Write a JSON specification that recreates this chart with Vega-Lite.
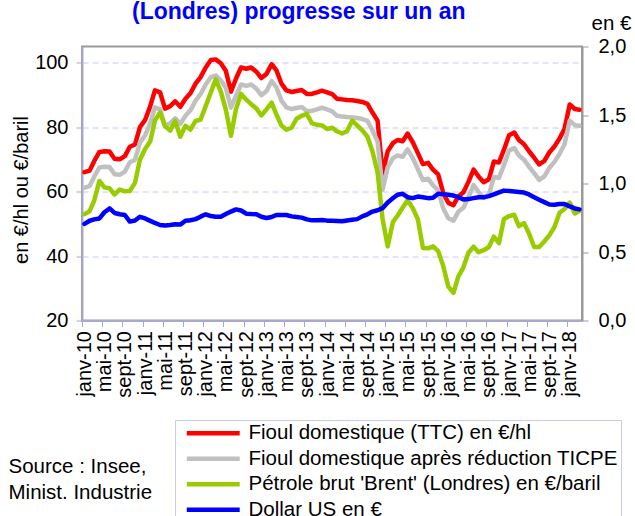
{
  "$schema": "https://vega.github.io/schema/vega-lite/v6.json",
  "width": 500,
  "height": 274,
  "autosize": {"type": "none"},
  "padding": {"left": 82, "top": 46.5, "right": 53, "bottom": 195.5},
  "background": "white",
  "config": {
    "font": "Liberation Sans",
    "view": {"stroke": "#9a9a9a", "strokeWidth": 2},
    "axis": {"labelFont": "Liberation Sans", "titleFont": "Liberation Sans", "labelColor": "black", "titleColor": "black", "titleFontWeight": "normal"}
  },
  "title": {"text": "(Londres) progresse sur un an", "anchor": "start", "frame": "group", "dx": 50, "dy": 16, "fontSize": 23, "fontWeight": "bold", "color": "#0000ff", "font": "Liberation Sans", "offset": 6},
  "data": {"values": [
    {"d":"2010-01-01","ttc":66,"ticpe":61.2,"brent":53,"usd":0.705},
    {"d":"2010-02-01","ttc":66.5,"ticpe":61.7,"brent":53.9,"usd":0.728},
    {"d":"2010-03-01","ttc":69.5,"ticpe":64.7,"brent":57.3,"usd":0.738},
    {"d":"2010-04-01","ttc":72.3,"ticpe":67.5,"brent":63.3,"usd":0.745},
    {"d":"2010-05-01","ttc":72.5,"ticpe":67.7,"brent":61.3,"usd":0.79},
    {"d":"2010-06-01","ttc":72.4,"ticpe":67.6,"brent":61,"usd":0.818},
    {"d":"2010-07-01","ttc":70.2,"ticpe":65.4,"brent":59.1,"usd":0.785},
    {"d":"2010-08-01","ttc":70,"ticpe":65.2,"brent":60.6,"usd":0.776},
    {"d":"2010-09-01","ttc":71,"ticpe":66.2,"brent":60.1,"usd":0.77},
    {"d":"2010-10-01","ttc":73.9,"ticpe":69.1,"brent":60.2,"usd":0.722},
    {"d":"2010-11-01","ttc":74.6,"ticpe":69.8,"brent":62.7,"usd":0.73},
    {"d":"2010-12-01","ttc":80,"ticpe":75.2,"brent":69.9,"usd":0.757},
    {"d":"2011-01-01","ttc":82.2,"ticpe":77.4,"brent":73.2,"usd":0.745},
    {"d":"2011-02-01","ttc":86.5,"ticpe":81.2,"brent":75.6,"usd":0.727},
    {"d":"2011-03-01","ttc":91.4,"ticpe":86.1,"brent":82,"usd":0.712},
    {"d":"2011-04-01","ttc":90.8,"ticpe":85.5,"brent":84.5,"usd":0.697},
    {"d":"2011-05-01","ttc":85.7,"ticpe":80.4,"brent":80.3,"usd":0.693},
    {"d":"2011-06-01","ttc":86.5,"ticpe":81.2,"brent":78.9,"usd":0.697},
    {"d":"2011-07-01","ttc":88,"ticpe":82.7,"brent":81.9,"usd":0.703},
    {"d":"2011-08-01","ttc":86.3,"ticpe":81,"brent":77,"usd":0.7},
    {"d":"2011-09-01","ttc":88.8,"ticpe":83.5,"brent":80.4,"usd":0.728},
    {"d":"2011-10-01","ttc":90.5,"ticpe":85.2,"brent":79.2,"usd":0.732},
    {"d":"2011-11-01","ttc":93.5,"ticpe":88.2,"brent":81.9,"usd":0.74},
    {"d":"2011-12-01","ttc":95.5,"ticpe":90.2,"brent":82.3,"usd":0.758},
    {"d":"2012-01-01","ttc":98.5,"ticpe":93.2,"brent":86.5,"usd":0.775},
    {"d":"2012-02-01","ttc":100.8,"ticpe":95.5,"brent":90.8,"usd":0.762},
    {"d":"2012-03-01","ttc":101,"ticpe":96,"brent":94.8,"usd":0.758},
    {"d":"2012-04-01","ttc":99.8,"ticpe":94.5,"brent":91,"usd":0.758},
    {"d":"2012-05-01","ttc":97.5,"ticpe":92.2,"brent":85.5,"usd":0.777},
    {"d":"2012-06-01","ttc":91,"ticpe":86,"brent":77.3,"usd":0.795},
    {"d":"2012-07-01","ttc":95,"ticpe":89.7,"brent":85.5,"usd":0.811},
    {"d":"2012-08-01","ttc":98.5,"ticpe":93.2,"brent":90.3,"usd":0.803},
    {"d":"2012-09-01","ttc":98.1,"ticpe":92.8,"brent":88.5,"usd":0.78},
    {"d":"2012-10-01","ttc":98.5,"ticpe":93.2,"brent":87.1,"usd":0.777},
    {"d":"2012-11-01","ttc":97.2,"ticpe":91.9,"brent":85.8,"usd":0.775},
    {"d":"2012-12-01","ttc":95.2,"ticpe":89.9,"brent":83.6,"usd":0.757},
    {"d":"2013-01-01","ttc":96.5,"ticpe":91.2,"brent":85.5,"usd":0.748},
    {"d":"2013-02-01","ttc":99.5,"ticpe":94.3,"brent":87.6,"usd":0.755},
    {"d":"2013-03-01","ttc":97.7,"ticpe":92.4,"brent":84,"usd":0.77},
    {"d":"2013-04-01","ttc":93.5,"ticpe":88.2,"brent":80.5,"usd":0.77},
    {"d":"2013-05-01","ttc":91.4,"ticpe":86.1,"brent":79.2,"usd":0.77},
    {"d":"2013-06-01","ttc":90.9,"ticpe":85.6,"brent":79.8,"usd":0.76},
    {"d":"2013-07-01","ttc":91.2,"ticpe":85.9,"brent":82.6,"usd":0.756},
    {"d":"2013-08-01","ttc":91.5,"ticpe":86.2,"brent":83.5,"usd":0.751},
    {"d":"2013-09-01","ttc":90.3,"ticpe":85,"brent":84.1,"usd":0.738},
    {"d":"2013-10-01","ttc":90.3,"ticpe":85,"brent":81.2,"usd":0.731},
    {"d":"2013-11-01","ttc":90.8,"ticpe":85.5,"brent":80.7,"usd":0.731},
    {"d":"2013-12-01","ttc":91.3,"ticpe":86,"brent":80.5,"usd":0.733},
    {"d":"2014-01-01","ttc":90.8,"ticpe":85.5,"brent":79.4,"usd":0.729},
    {"d":"2014-02-01","ttc":90.2,"ticpe":84.9,"brent":79.8,"usd":0.728},
    {"d":"2014-03-01","ttc":88.8,"ticpe":83.5,"brent":78.7,"usd":0.726},
    {"d":"2014-04-01","ttc":88.6,"ticpe":83.3,"brent":78,"usd":0.724},
    {"d":"2014-05-01","ttc":88.4,"ticpe":83.1,"brent":78.7,"usd":0.73},
    {"d":"2014-06-01","ttc":88.3,"ticpe":83,"brent":82,"usd":0.735},
    {"d":"2014-07-01","ttc":88.1,"ticpe":82.8,"brent":80.5,"usd":0.74},
    {"d":"2014-08-01","ttc":87.8,"ticpe":82.5,"brent":79,"usd":0.76},
    {"d":"2014-09-01","ttc":87.2,"ticpe":81.9,"brent":77,"usd":0.775},
    {"d":"2014-10-01","ttc":84.5,"ticpe":79,"brent":72.5,"usd":0.795},
    {"d":"2014-11-01","ttc":82,"ticpe":75.5,"brent":66,"usd":0.805},
    {"d":"2014-12-01","ttc":65.5,"ticpe":60.6,"brent":51.5,"usd":0.82},
    {"d":"2015-01-01","ttc":72.5,"ticpe":67.5,"brent":43,"usd":0.862},
    {"d":"2015-02-01","ttc":75,"ticpe":70.3,"brent":50.5,"usd":0.892},
    {"d":"2015-03-01","ttc":76,"ticpe":71.2,"brent":52.5,"usd":0.918},
    {"d":"2015-04-01","ttc":75.6,"ticpe":70.8,"brent":55,"usd":0.925},
    {"d":"2015-05-01","ttc":78,"ticpe":73.1,"brent":57.4,"usd":0.9},
    {"d":"2015-06-01","ttc":75.3,"ticpe":70.4,"brent":54.8,"usd":0.893},
    {"d":"2015-07-01","ttc":72,"ticpe":67,"brent":51.5,"usd":0.905},
    {"d":"2015-08-01","ttc":68.5,"ticpe":63.6,"brent":42.5,"usd":0.9},
    {"d":"2015-09-01","ttc":68.9,"ticpe":64,"brent":42.4,"usd":0.893},
    {"d":"2015-10-01","ttc":66.8,"ticpe":61.9,"brent":43,"usd":0.896},
    {"d":"2015-11-01","ttc":65.3,"ticpe":60.4,"brent":41.5,"usd":0.926},
    {"d":"2015-12-01","ttc":59.6,"ticpe":54.8,"brent":37,"usd":0.922},
    {"d":"2016-01-01","ttc":56.5,"ticpe":51.7,"brent":30.5,"usd":0.918},
    {"d":"2016-02-01","ttc":55.8,"ticpe":51,"brent":28.6,"usd":0.912},
    {"d":"2016-03-01","ttc":58.5,"ticpe":53.7,"brent":33.6,"usd":0.9},
    {"d":"2016-04-01","ttc":59.8,"ticpe":55,"brent":36.5,"usd":0.884},
    {"d":"2016-05-01","ttc":63,"ticpe":58.2,"brent":41,"usd":0.886},
    {"d":"2016-06-01","ttc":66.8,"ticpe":62,"brent":42.9,"usd":0.893},
    {"d":"2016-07-01","ttc":64.7,"ticpe":59.9,"brent":41.2,"usd":0.899},
    {"d":"2016-08-01","ttc":62.9,"ticpe":58.1,"brent":41.8,"usd":0.899},
    {"d":"2016-09-01","ttc":63.8,"ticpe":59,"brent":42.8,"usd":0.908},
    {"d":"2016-10-01","ttc":69.3,"ticpe":64.5,"brent":46,"usd":0.92},
    {"d":"2016-11-01","ttc":69,"ticpe":64.2,"brent":44,"usd":0.935},
    {"d":"2016-12-01","ttc":73,"ticpe":68.2,"brent":51.5,"usd":0.948},
    {"d":"2017-01-01","ttc":77.5,"ticpe":72.7,"brent":52.4,"usd":0.946},
    {"d":"2017-02-01","ttc":78.3,"ticpe":73.5,"brent":52.8,"usd":0.942},
    {"d":"2017-03-01","ttc":76,"ticpe":71.2,"brent":49.3,"usd":0.938},
    {"d":"2017-04-01","ttc":74.7,"ticpe":69.9,"brent":50.2,"usd":0.934},
    {"d":"2017-05-01","ttc":72.5,"ticpe":67.7,"brent":47,"usd":0.92},
    {"d":"2017-06-01","ttc":70.5,"ticpe":65.7,"brent":42.8,"usd":0.9},
    {"d":"2017-07-01","ttc":68.4,"ticpe":63.6,"brent":42.8,"usd":0.882},
    {"d":"2017-08-01","ttc":69.5,"ticpe":64.7,"brent":44.5,"usd":0.864},
    {"d":"2017-09-01","ttc":72.2,"ticpe":67.4,"brent":46.5,"usd":0.847},
    {"d":"2017-10-01","ttc":74,"ticpe":69.2,"brent":49,"usd":0.845},
    {"d":"2017-11-01","ttc":76.5,"ticpe":71.7,"brent":53.4,"usd":0.85},
    {"d":"2017-12-01","ttc":79.5,"ticpe":74.7,"brent":54.6,"usd":0.85},
    {"d":"2018-01-01","ttc":87,"ticpe":82,"brent":56.6,"usd":0.833},
    {"d":"2018-02-01","ttc":85.6,"ticpe":80.6,"brent":53.2,"usd":0.818},
    {"d":"2018-03-01","ttc":85.4,"ticpe":80.4,"brent":54,"usd":0.811}
  ]},
  "layer": [
    {
      "transform": [{"fold": ["ttc", "ticpe", "brent"], "as": ["series", "value"]}],
      "mark": {"type": "line", "strokeJoin": "round", "strokeCap": "round"},
      "encoding": {
        "x": {
          "field": "d", "type": "temporal",
          "scale": {"type": "utc", "domain": [{"year": 2009, "month": 12, "date": 17, "utc": true}, {"year": 2018, "month": 3, "date": 16, "utc": true}]},
          "axis": {
            "orient": "bottom",
            "title": ["Source : Insee,", "Minist. Industrie"],
            "titleX": -74, "titleY": 136, "titleAlign": "left", "titleBaseline": "top", "titleAngle": 0,
            "titleFontSize": 20.5, "titleLineHeight": 26, "titleFontWeight": "normal",
            "tickCount": {"interval": "month", "step": 4},
            "labelExpr": "['janv','févr','mars','avr','mai','juin','juil','août','sept','oct','nov','déc'][utcmonth(datum.value)] + '-' + utcFormat(datum.value, '%y')",
            "labelAngle": -90, "labelAlign": "right", "labelBaseline": "middle",
            "labelFontSize": 20, "labelOverlap": false, "labelFlush": false, "labelPadding": 4,
            "tickSize": 6, "tickColor": "#a8a8d0", "domainColor": "#a8a8d0", "domainWidth": 2,
            "tickOffset": -2.5, "labelOffset": 2.5, "grid": false
          }
        },
        "y": {
          "field": "value", "type": "quantitative",
          "scale": {"domain": [20, 105], "nice": false, "zero": false},
          "axis": {
            "orient": "left", "values": [20, 40, 60, 80, 100],
            "title": "en €/hl ou €/baril", "titleFontSize": 20, "titleX": -61, "titleY": 143, "titleAngle": -90,
            "titleAlign": "center", "titleBaseline": "middle",
            "labelFontSize": 20, "labelPadding": 8,
            "grid": true, "gridColor": "#c8c8f4", "gridDash": [6, 4], "gridWidth": 1,
            "tickSize": 6, "tickColor": "#a8a8d0", "domainColor": "#a8a8d0", "domainWidth": 2
          }
        },
        "color": {
          "field": "series", "type": "nominal",
          "scale": {"domain": ["ttc", "ticpe", "brent", "usd"], "range": ["#ff0000", "#c0c0c0", "#99cc00", "#0000ff"]},
          "legend": {
            "title": null, "orient": "none", "legendX": 93, "legendY": 373.5,
            "symbolType": "M-5,0H5", "symbolSize": 112, "symbolOffset": 25, "labelFontSize": 20.5, "labelFont": "Liberation Sans", "labelColor": "black",
            "labelExpr": "datum.label == 'ttc' ? 'Fioul domestique (TTC) en €/hl' : datum.label == 'ticpe' ? 'Fioul domestique après réduction TICPE' : datum.label == 'brent' ? \"Pétrole brut 'Brent' (Londres) en €/baril\" : 'Dollar US en €'",
            "strokeColor": "#c8c8f0", "fillColor": "white", "padding": 3, "rowPadding": 4.5, "labelOffset": 25, "labelLimit": 600,
            "encode": {"symbols": {"enter": {"strokeWidth": [{"test": "datum.value === 'usd'", "value": 2}, {"value": 4.5}]}, "update": {"strokeWidth": [{"test": "datum.value === 'usd'", "value": 2}, {"value": 4.5}]}}}
          }
        },
        "strokeWidth": {
          "field": "series", "type": "nominal",
          "scale": {"domain": ["ttc", "ticpe", "brent", "usd"], "range": [4.5, 4.5, 4.5, 2]},
          "legend": null
        }
      }
    },
    {
      "mark": {"type": "line", "strokeJoin": "round", "strokeCap": "round"},
      "encoding": {
        "x": {"field": "d", "type": "temporal"},
        "y": {
          "field": "usd", "type": "quantitative",
          "scale": {"domain": [0, 2], "nice": false, "zero": false},
          "axis": {
            "orient": "right", "values": [0, 0.5, 1, 1.5, 2],
            "labelExpr": "replace(format(datum.value, '.1f'), '.', ',')",
            "title": "en €", "titleAngle": 0, "titleX": 29, "titleY": -23, "titleAlign": "center", "titleBaseline": "middle", "titleFontSize": 20.5,
            "labelFontSize": 20, "labelPadding": 10, "labelFlush": false, "grid": false,
            "tickSize": 6, "tickColor": "#9a9a9a", "domainColor": "#9a9a9a", "domainWidth": 2
          }
        },
        "color": {"datum": "usd"},
        "strokeWidth": {"datum": "usd", "legend": null}
      }
    }
  ],
  "resolve": {"scale": {"y": "independent"}}
}
